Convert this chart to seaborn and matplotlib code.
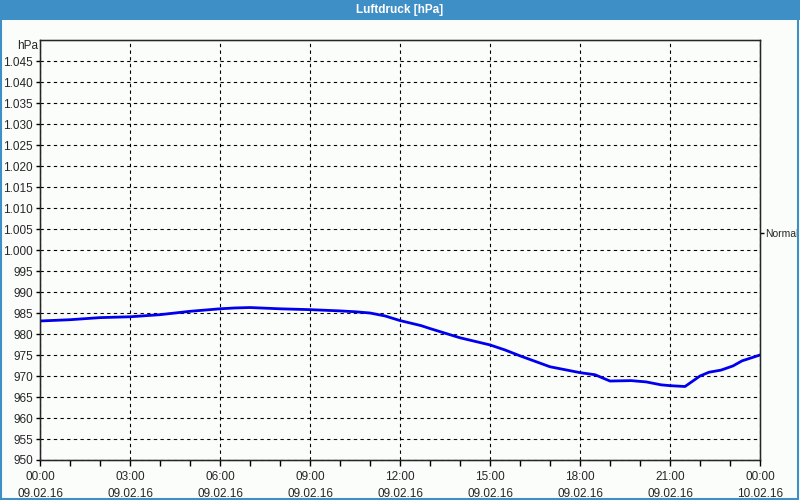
import matplotlib
matplotlib.use("Agg")
import matplotlib.pyplot as plt
import matplotlib.patches as mpatches
import seaborn as sns
import pandas as pd

# Luftdruck-Verlauf 09.02.16 (Stunden seit 00:00, hPa)
stunden = [0, 1, 2, 3, 4, 5, 6, 6.5, 7, 8, 9, 10, 10.5, 11, 11.5, 12,
           12.7, 13, 14, 15, 15.5, 16, 17, 18, 18.5, 19, 19.7, 20.2, 20.7,
           21, 21.5, 22, 22.3, 22.7, 23.1, 23.4, 24]
druck = [983.1, 983.4, 983.9, 984.1, 984.6, 985.4, 986.0, 986.2, 986.3, 986.0,
         985.8, 985.5, 985.3, 985.0, 984.3, 983.2, 982.0, 981.3, 979.1, 977.4,
         976.2, 974.8, 972.2, 970.8, 970.3, 968.8, 968.9, 968.6, 967.9, 967.7,
         967.5, 970.0, 970.9, 971.4, 972.4, 973.6, 975.0]

x_ticks = [0, 3, 6, 9, 12, 15, 18, 21, 24]
x_labels = ["00:00\n09.02.16", "03:00\n09.02.16", "06:00\n09.02.16",
            "09:00\n09.02.16", "12:00\n09.02.16", "15:00\n09.02.16",
            "18:00\n09.02.16", "21:00\n09.02.16", "00:00\n10.02.16"]
y_ticks = list(range(950, 1050, 5))
normal_wert = 1004

sns.set_style("white")
plt.rcParams['font.family'] = ['Liberation Sans', 'DejaVu Sans']
plt.rcParams['font.size'] = 8.5

bg = "#fbfdfb"
blau = "#3d8fc6"

fig = plt.figure(figsize=(8, 5), dpi=100, facecolor=bg)

# Titelleiste und Rahmen
fig.patches.append(mpatches.Rectangle((0, 480 / 500), 1, 20 / 500, transform=fig.transFigure,
                                      facecolor=blau, edgecolor="none", zorder=0))
fig.patches.append(mpatches.Rectangle((0.001, 0.002), 0.997, 0.996, transform=fig.transFigure,
                                      facecolor="none", edgecolor=blau, lw=1.5, zorder=1))
fig.text(0.5, 490 / 500, "Luftdruck [hPa]", color="white", fontweight="bold",
         ha="center", va="center", fontsize=8.5)

ax = fig.add_axes([40 / 800, 40 / 500, 720 / 800, 420 / 500], facecolor=bg)
df = pd.DataFrame({"stunde": stunden, "druck": druck})
sns.lineplot(data=df, x="stunde", y="druck", ax=ax, color="#0000ee", lw=2)

ax.set_xlim(0, 24)
ax.set_ylim(950, 1050)
ax.set_xticks(x_ticks)
ax.set_xticklabels(x_labels, linespacing=1.55)
ax.set_xticks(range(0, 25), minor=True)
ax.set_yticks(y_ticks)
ax.set_yticklabels([f"{v:,}".replace(",", ".") for v in y_ticks])
ax.tick_params(axis="x", which="both", direction="out", length=4, width=1, pad=4,
               bottom=True, color="black")
ax.tick_params(axis="y", direction="out", length=3, width=1, pad=2, left=True, color="black")
ax.set_xlabel("")
ax.set_ylabel("")
ax.grid(True, which="major", color="black", linestyle=(0, (3, 3)), lw=0.8)
for s in ax.spines.values():
    s.set_color("black")
    s.set_linewidth(1)
ax.text(-0.003, 1.0 - 6 / 420, "hPa", transform=ax.transAxes, ha="right", va="center")

ax2 = ax.twinx()
ax2.set_ylim(950, 1050)
ax2.set_yticks([normal_wert])
ax2.set_yticklabels(["Normal"], fontsize=7.5)
ax2.tick_params(axis="y", direction="out", length=3, width=1, pad=0.5, right=True, color="black")
ax2.grid(False)

fig.savefig("out.png", dpi=100, facecolor=bg)
